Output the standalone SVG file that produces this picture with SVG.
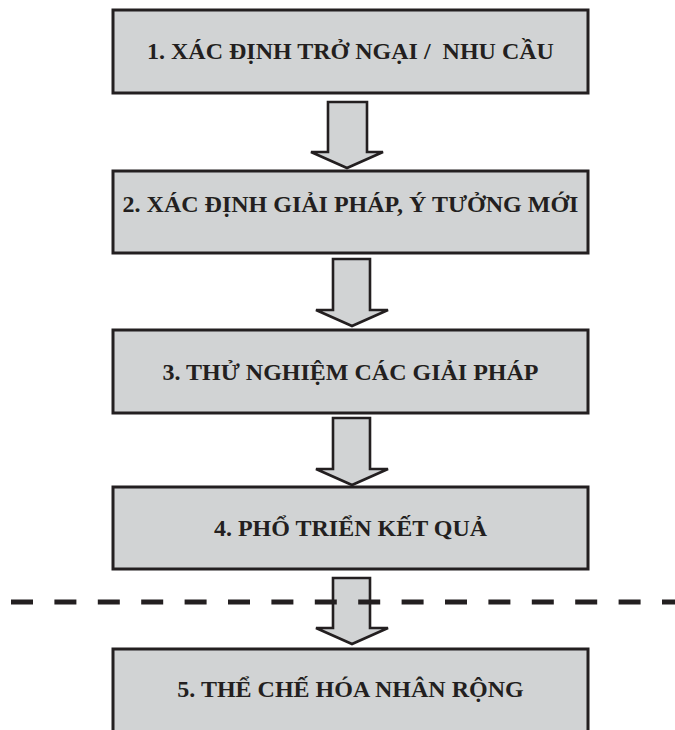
<svg xmlns="http://www.w3.org/2000/svg" width="675" height="730" viewBox="0 0 675 730">
  <style>
    .box { fill: #d1d3d4; stroke: #231f20; stroke-width: 3; }
    .arrow { fill: #d1d3d4; stroke: #231f20; stroke-width: 2.6; stroke-linejoin: miter; }
    .label { font-family: "Liberation Serif", "Times New Roman", serif; font-weight: bold; font-size: 24px; fill: #231f20; text-anchor: middle; white-space: pre; }
    .divider { stroke: #231f20; stroke-width: 5; stroke-dasharray: 22 21.4; fill: none; }
  </style>
  <rect width="675" height="730" fill="#ffffff"/>

  <g id="connectors">
    <polygon class="arrow" points="328,102 367,102 367,152 383,152 347,168 311,152 328,152"/>
    <polygon class="arrow" points="333,259 370,259 370,310 388,310 352,326 316,310 333,310"/>
    <polygon class="arrow" points="333,418 370,418 370,469 388,469 352,485 316,469 333,469"/>
    <polygon class="arrow" points="333,578 370,578 370,628 388,628 352,644 316,628 333,628"/>
  </g>

  <line id="divider" class="divider" x1="11" y1="602" x2="675" y2="602"/>

  <g id="step1">
    <rect class="box" x="113" y="10" width="475" height="83"/>
    <text class="label" x="350.5" y="59" xml:space="preserve">1. XÁC ĐỊNH TRỞ NGẠI /  NHU CẦU</text>
  </g>
  <g id="step2">
    <rect class="box" x="113" y="171" width="475" height="82"/>
    <text class="label" x="350.5" y="212">2. XÁC ĐỊNH GIẢI PHÁP, Ý TƯỞNG MỚI</text>
  </g>
  <g id="step3">
    <rect class="box" x="113" y="330" width="475" height="83"/>
    <text class="label" x="350.5" y="380">3. THỬ NGHIỆM CÁC GIẢI PHÁP</text>
  </g>
  <g id="step4">
    <rect class="box" x="113" y="487" width="475" height="82"/>
    <text class="label" x="350.5" y="536">4. PHỔ TRIỂN KẾT QUẢ</text>
  </g>
  <g id="step5">
    <rect class="box" x="113" y="649" width="475" height="90"/>
    <text class="label" x="350.5" y="697">5. THỂ CHẾ HÓA NHÂN RỘNG</text>
  </g>
</svg>
